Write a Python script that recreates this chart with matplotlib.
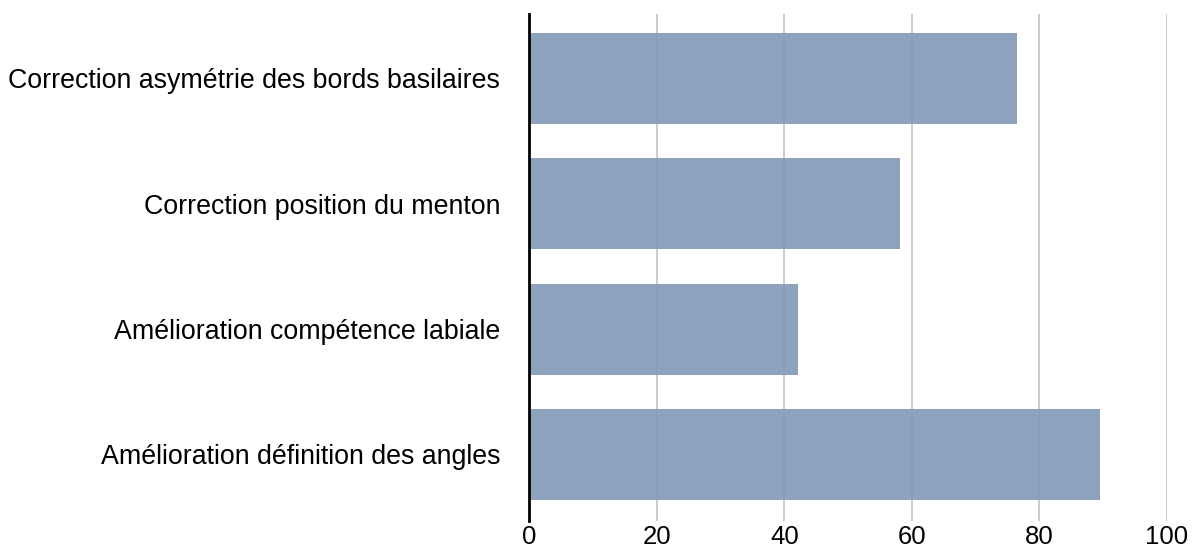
"""
Horizontal bar chart - pourcentage d'amélioration par critère
"""

import matplotlib.pyplot as plt

# Data
categories = [
    "Correction asymétrie des bords basilaires",
    "Correction position du menton",
    "Amélioration compétence labiale",
    "Amélioration définition des angles",
]
values = [76.5, 58.1, 42.1, 89.5]
xticks = [0, 20, 40, 60, 80, 100]

BAR_COLOR = '#8098b6'

plt.rcParams['font.family'] = ['Liberation Sans', 'DejaVu Sans']

fig = plt.figure(figsize=(12.02, 5.55), dpi=100)
ax = fig.add_axes([0.4403, 0.0618, 0.5305, 0.913])

y = range(len(categories))
ax.barh(y, values, height=0.726, color=BAR_COLOR, alpha=0.9, zorder=2)

ax.set_xlim(0, 100)
ax.set_ylim(3.53, -0.515)
ax.set_xticks(xticks)
ax.set_xticklabels([str(t) for t in xticks])
ax.set_yticks(list(y))
ax.set_yticklabels(categories)

# Light grid behind semi-transparent bars
ax.set_axisbelow(True)
ax.grid(True, axis='x', color='#c8c8c8', linewidth=1.3, zorder=1)
ax.grid(False, axis='y')

for side in ['top', 'right', 'bottom']:
    ax.spines[side].set_visible(False)
ax.spines['left'].set_linewidth(2)
ax.spines['left'].set_color('black')
ax.spines['left'].set_zorder(3)

ax.tick_params(axis='both', length=0, colors='black')
ax.tick_params(axis='y', pad=21, labelsize=19.3)
ax.tick_params(axis='x', pad=3, labelsize=18.5)

plt.savefig('out.png', dpi=100)
plt.close()
